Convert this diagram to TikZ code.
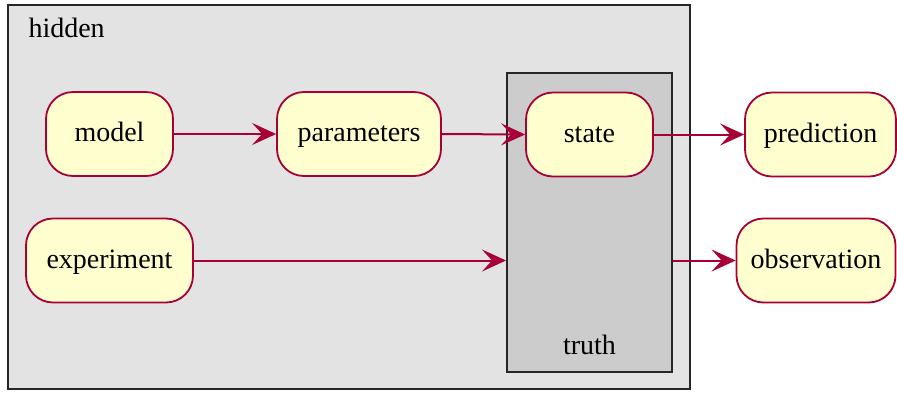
\documentclass[tikz,border=0pt]{standalone}
\usepackage{fontspec}
\setmainfont{Liberation Serif}
\usetikzlibrary{arrows.meta}
\definecolor{edgered}{HTML}{A80036}
\definecolor{notefill}{HTML}{FEFECE}
\definecolor{outerfill}{HTML}{E3E3E3}
\definecolor{innerfill}{HTML}{CCCCCC}
\tikzset{
  txt/.style={font=\rmfamily\fontsize{28}{32}\selectfont},
  state box/.style={draw=edgered, fill=notefill, line width=1.8pt, rounded corners=27pt,
    minimum height=84pt, inner sep=0pt, text height=20pt, text depth=5pt, txt},
  group box/.style={draw=black!85, line width=2pt, inner sep=0pt},
  flow/.style={draw=edgered, line width=2pt,
    -{Stealth[length=24pt,width=22pt,inset=10pt]}},
}
\begin{document}
\begin{tikzpicture}[x=1pt,y=-1pt]
  \useasboundingbox (0,0) rectangle (897,392);
  % outer package and the nested one
  \node[group box, fill=outerfill, minimum width=682pt, minimum height=384pt] (hidden) at (349,197) {};
  \node[txt, anchor=west] (hiddenlabel) at (25,28) {hidden};
  \node[group box, fill=innerfill, minimum width=165pt, minimum height=299pt] (truth) at (589.5,222.5) {};
  \node[txt] (truthlabel) at (589.5,345) {truth};

  % states
  \node[state box, minimum width=127pt] (model) at (109.5,134) {model};
  \node[state box, minimum width=164pt] (parameters) at (359,134) {parameters};
  \node[state box, minimum width=127pt] (state) at (589.5,134.5) {state};
  \node[state box, minimum width=151pt] (prediction) at (820.5,134.5) {prediction};
  \node[state box, minimum width=167pt] (experiment) at (109.5,260.5) {experiment};
  \node[state box, minimum width=159pt] (observation) at (816,260.5) {observation};

  % transitions
  \draw[flow] (model.east) -- (parameters.west);
  \draw[flow] (parameters.east) -- (state.west);
  \draw[flow] (state.east) -- (prediction.west);
  \draw[flow] (experiment.east) -- (experiment.east -| truth.west);
  \draw[flow] (truth.east |- observation.west) -- (observation.west);
\end{tikzpicture}
\end{document}
